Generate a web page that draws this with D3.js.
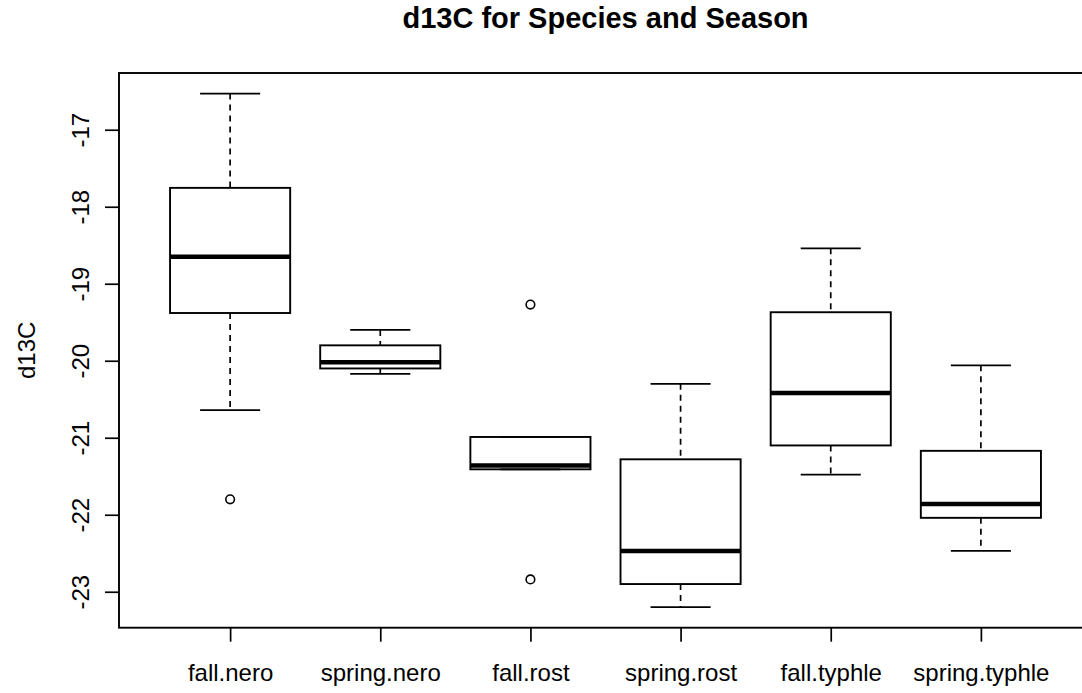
<!DOCTYPE html>
<html>
<head>
<meta charset="utf-8">
<script src="https://cdnjs.cloudflare.com/ajax/libs/d3/7.8.5/d3.min.js"></script>
<style>
  html, body { margin: 0; padding: 0; background: #fff; }
  svg { display: block; }
  text { font-family: "Liberation Sans", Arial, Helvetica, sans-serif; fill: #000; }
</style>
</head>
<body>
<svg id="chart" width="1082" height="693"></svg>
<script>
// ---- data ----
const categories = ["fall.nero", "spring.nero", "fall.rost", "spring.rost", "fall.typhle", "spring.typhle"];
const whiskerLow  = [-20.64, -20.17, -21.41, -23.20, -21.48, -22.47];
const q1          = [-19.38, -20.10, -21.41, -22.90, -21.10, -22.04];
const median      = [-18.65, -20.02, -21.36, -22.47, -20.42, -21.86];
const q3          = [-17.755, -19.80, -20.99, -21.28, -19.37, -21.17];
const whiskerHigh = [-16.53, -19.60, -20.99, -20.30, -18.54, -20.06];
const outliers    = [[-21.80], [], [-19.27, -22.84], [], [], []];
const yTicks      = [-17, -18, -19, -20, -21, -22, -23];
const title = "d13C for Species and Season";
const yLabel = "d13C";

// ---- layout ----
const svg = d3.select("#chart");
const plotLeft = 119, plotRight = 1092, plotTop = 73, plotBottom = 627.7;

const n = categories.length;
const xExt = n * 0.04;
const x = d3.scaleLinear().domain([0.5 - xExt, n + 0.5 + xExt]).range([plotLeft, plotRight]);

const allVals = whiskerLow.concat(whiskerHigh, outliers.flat());
const yMin = d3.min(allVals), yMax = d3.max(allVals);
const yExt = (yMax - yMin) * 0.04;
const y = d3.scaleLinear().domain([yMin - yExt, yMax + yExt]).range([plotBottom, plotTop]);

const boxWex = 0.8;
const halfBox = (x(1 + boxWex / 2) - x(1 - boxWex / 2)) / 2;
const halfCap = halfBox / 2;

const data = categories.map((c, i) => ({
  cat: c, pos: i + 1,
  lo: whiskerLow[i], q1: q1[i], med: median[i], q3: q3[i], hi: whiskerHigh[i],
  out: outliers[i]
}));

const g = svg.append("g");
const bx = g.selectAll("g.box").data(data).join("g").attr("class", "box");

// whiskers (dashed)
bx.append("line")
  .attr("x1", d => x(d.pos)).attr("x2", d => x(d.pos))
  .attr("y1", d => y(d.hi)).attr("y2", d => y(d.q3))
  .attr("stroke", "#000").attr("stroke-width", 1.7).attr("stroke-dasharray", "6,5");
bx.append("line")
  .attr("x1", d => x(d.pos)).attr("x2", d => x(d.pos))
  .attr("y1", d => y(d.q1)).attr("y2", d => y(d.lo))
  .attr("stroke", "#000").attr("stroke-width", 1.7).attr("stroke-dasharray", "6,5");
// staples
bx.append("line")
  .attr("x1", d => x(d.pos) - halfCap).attr("x2", d => x(d.pos) + halfCap)
  .attr("y1", d => y(d.hi)).attr("y2", d => y(d.hi))
  .attr("stroke", "#000").attr("stroke-width", 1.7);
bx.append("line")
  .attr("x1", d => x(d.pos) - halfCap).attr("x2", d => x(d.pos) + halfCap)
  .attr("y1", d => y(d.lo)).attr("y2", d => y(d.lo))
  .attr("stroke", "#000").attr("stroke-width", 1.7);
// box
bx.append("rect")
  .attr("x", d => x(d.pos) - halfBox)
  .attr("width", halfBox * 2)
  .attr("y", d => y(d.q3))
  .attr("height", d => y(d.q1) - y(d.q3))
  .attr("fill", "none").attr("stroke", "#000").attr("stroke-width", 1.9);
// median
bx.append("line")
  .attr("x1", d => x(d.pos) - halfBox).attr("x2", d => x(d.pos) + halfBox)
  .attr("y1", d => y(d.med)).attr("y2", d => y(d.med))
  .attr("stroke", "#000").attr("stroke-width", 4.5);
// outliers
bx.selectAll("circle").data(d => d.out.map(v => ({ pos: d.pos, v })))
  .join("circle")
  .attr("cx", d => x(d.pos)).attr("cy", d => y(d.v)).attr("r", 4.3)
  .attr("fill", "none").attr("stroke", "#000").attr("stroke-width", 1.6);

// frame
svg.append("rect")
  .attr("x", plotLeft).attr("y", plotTop)
  .attr("width", plotRight - plotLeft).attr("height", plotBottom - plotTop)
  .attr("fill", "none").attr("stroke", "#000").attr("stroke-width", 1.9);

// y axis
const yAxis = d3.axisLeft(y).tickValues(yTicks).tickSize(14).tickSizeOuter(0).tickPadding(0)
  .tickFormat(d => String(d));
const ya = svg.append("g").attr("transform", `translate(${plotLeft},0)`).call(yAxis);
ya.select(".domain").remove();
ya.selectAll(".tick line").attr("stroke-width", 1.7);
ya.selectAll(".tick text")
  .attr("font-size", 24)
  .attr("font-family", "Liberation Sans, Arial, sans-serif")
  .attr("text-anchor", "middle")
  .attr("dy", null)
  .attr("x", null)
  .attr("transform", "translate(-30,0) rotate(-90)");

// x axis
const xAxis = d3.axisBottom(x).tickValues(data.map(d => d.pos)).tickSize(14).tickSizeOuter(0).tickPadding(0)
  .tickFormat((d, i) => categories[i]);
const xa = svg.append("g").attr("transform", `translate(0,${plotBottom})`).call(xAxis);
xa.select(".domain").remove();
xa.selectAll(".tick line").attr("stroke-width", 1.7);
xa.selectAll(".tick text")
  .attr("font-size", 24)
  .attr("font-family", "Liberation Sans, Arial, sans-serif")
  .attr("dy", null)
  .attr("y", 53.5);

// title
svg.append("text")
  .attr("x", (plotLeft + plotRight) / 2)
  .attr("y", 28)
  .attr("text-anchor", "middle")
  .attr("font-size", 29)
  .attr("font-weight", "bold")
  .text(title);

// y label
svg.append("text")
  .attr("transform", `translate(35,${(plotTop + plotBottom) / 2}) rotate(-90)`)
  .attr("text-anchor", "middle")
  .attr("font-size", 24)
  .text(yLabel);
</script>
</body>
</html>
